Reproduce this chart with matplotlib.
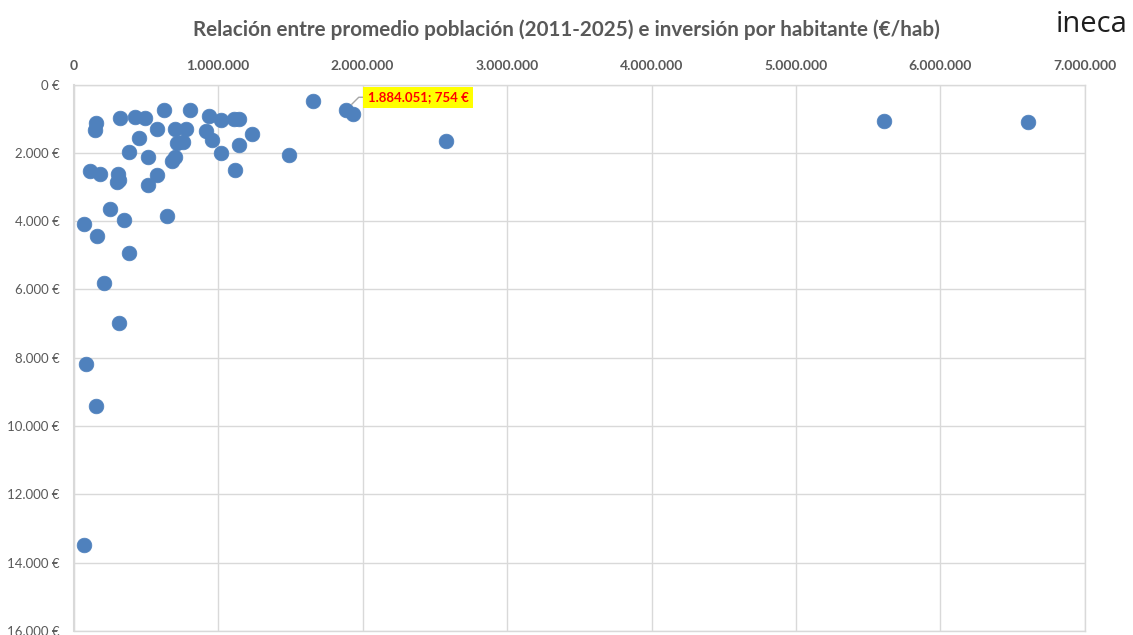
import matplotlib
matplotlib.use("Agg")
import matplotlib.pyplot as plt
from matplotlib.ticker import FuncFormatter, MultipleLocator

# Promedio población (2011-2025)
poblacion = [1656000, 1884051, 1933000, 629000, 807000, 320000, 426000, 493000,
             938000, 1021000, 1109000, 1146000, 158000, 149000, 580000, 703000,
             779000, 915000, 1236000, 456000, 715000, 760000, 961000, 1144000,
             387000, 516000, 1021000, 1492000, 703000, 680000, 1118000, 114000,
             184000, 310000, 317000, 299000, 576000, 518000, 253000, 352000,
             645000, 75000, 165000, 384000, 213000, 317000, 84000, 156000,
             75000, 5611000, 6603000, 2578000]
# Inversión por habitante (€/hab)
inversion = [490, 754, 870, 745, 745, 969, 940, 978,
             910, 1046, 1017, 1017, 1124, 1328, 1290, 1309,
             1309, 1348, 1445, 1553, 1700, 1670, 1630, 1757,
             1971, 2117, 2000, 2068, 2108, 2254, 2516, 2545,
             2613, 2620, 2800, 2847, 2650, 2934, 3645, 3956,
             3859, 4073, 4443, 4929, 5805, 6983, 8190, 9425,
             13474, 1057, 1095, 1659]

label_x = 1884051
label_y = 754

title = "Relación entre promedio población (2011-2025) e inversión por habitante (€/hab)"

plt.rcParams['font.family'] = ['Lato', 'DejaVu Sans']

W, H = 1133, 635
fig = plt.figure(figsize=(W / 100, H / 100), dpi=100)
ax = fig.add_axes([73.5 / W, 1 - 631 / H, (1085 - 73.5) / W, (631 - 84.5) / H])

ax.scatter(poblacion, inversion, s=112, color='#4F81BD', edgecolors='#4F81BD',
           linewidths=0.5, zorder=3)

ax.set_xlim(0, 7000000)
ax.set_ylim(16000, 0)
ax.xaxis.set_major_locator(MultipleLocator(1000000))
ax.yaxis.set_major_locator(MultipleLocator(2000))

def thousands(v):
    return f"{int(round(v)):,}".replace(",", ".")

ax.xaxis.set_major_formatter(FuncFormatter(lambda v, p: thousands(v)))
ax.yaxis.set_major_formatter(FuncFormatter(lambda v, p: thousands(v) + " €"))

ax.xaxis.tick_top()
ax.tick_params(axis='x', length=0, pad=9, labelsize=10, labelcolor='#595959')
ax.tick_params(axis='y', length=0, pad=10, labelsize=9.5, labelcolor='#595959')
for lbl in ax.get_xticklabels():
    lbl.set_fontweight('bold')

ax.grid(True, color='#d9d9d9', linewidth=1)
ax.set_axisbelow(True)
for sp in ax.spines.values():
    sp.set_color('#d9d9d9')
    sp.set_linewidth(1)
ax.spines['left'].set_linewidth(1.5)

ax.annotate(f"{thousands(label_x)}; {label_y} €", xy=(label_x, label_y),
            xytext=(22, 13), textcoords='offset pixels', ha='left', va='center',
            fontsize=9.5, fontweight='bold', color='#FF0000',
            bbox=dict(boxstyle='square,pad=0.35', fc='#FFFF00', ec='none'),
            arrowprops=dict(arrowstyle='-', color='#a6a6a6', lw=1,
                            connectionstyle='angle,angleA=0,angleB=45,rad=0',
                            shrinkA=0, shrinkB=6, relpos=(0, 0.5)),
            zorder=4)

fig.text(566 / W, 1 - 30 / H, title, ha='center', va='center', fontsize=14.9,
         fontweight='bold', color='#595959')
fig.text(1092 / W, 1 - 24 / H, "ineca", ha='center', va='center', fontsize=21,
         fontweight='medium', color='#1e1e1e', family=['Open Sans', 'DejaVu Sans'])

fig.savefig("out.png", dpi=100)
